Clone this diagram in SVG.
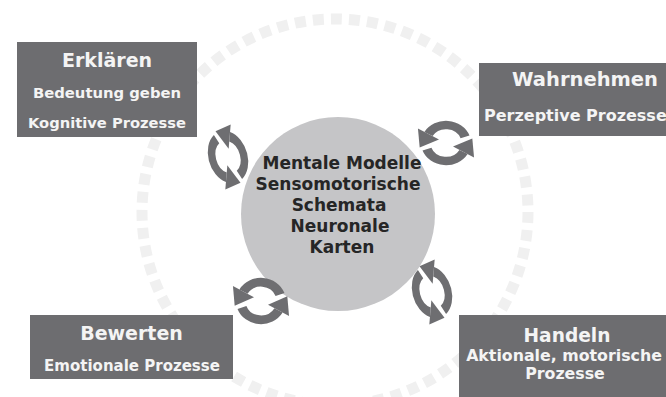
<svg xmlns="http://www.w3.org/2000/svg" xmlns:xlink="http://www.w3.org/1999/xlink" width="666" height="397" viewBox="0 0 666 397">
<style>
.box{fill:#6d6d70}
.bt{font-family:"DejaVu Sans",Verdana,sans-serif;font-weight:bold;fill:#f4f4f4;text-anchor:middle}
.ct{font-family:"DejaVu Sans",Verdana,sans-serif;font-weight:bold;fill:#262626;text-anchor:middle;font-size:17px}
.arc{fill:none;stroke:#6e6e71;stroke-width:7}
.head{fill:#6e6e71}
</style>
<defs>
<g id="half">
<path class="arc" d="M14.1,-5.13 A15,15 0 0 0 -12.99,-7.5"/>
<polygon class="head" points="-20.78,-12 -5.2,-3 -19.49,3.76"/>
</g>
<g id="cyc">
<use xlink:href="#half"/>
<use xlink:href="#half" transform="rotate(180)"/>
</g>
</defs>
<rect width="666" height="397" fill="#ffffff"/>
<circle cx="335" cy="212" r="193" fill="none" stroke="#f0f0f0" stroke-width="11" stroke-dasharray="11 7.1"/>
<g id="center">
<circle cx="338" cy="214" r="97" fill="#c5c5c7"/>
<text class="ct" x="342" y="169">Mentale Modelle</text>
<text class="ct" x="338" y="190">Sensomotorische</text>
<text class="ct" x="339" y="211">Schemata</text>
<text class="ct" x="340" y="232">Neuronale</text>
<text class="ct" x="342" y="253">Karten</text>
</g>
<g id="erklaeren">
<rect class="box" x="17" y="42" width="180" height="95"/>
<text class="bt" x="107" y="67" font-size="19">Erklären</text>
<text class="bt" x="107" y="98" font-size="14.8">Bedeutung geben</text>
<text class="bt" x="107" y="128" font-size="14.7">Kognitive Prozesse</text>
</g>
<g id="wahrnehmen">
<rect class="box" x="479" y="63" width="200" height="73"/>
<text class="bt" x="585" y="86" font-size="19.5">Wahrnehmen</text>
<text class="bt" x="484" y="121" font-size="16" style="text-anchor:start">Perzeptive Prozesse</text>
</g>
<g id="bewerten">
<rect class="box" x="30" y="315" width="203" height="64"/>
<text class="bt" x="131.5" y="340" font-size="19">Bewerten</text>
<text class="bt" x="132" y="371" font-size="15">Emotionale Prozesse</text>
</g>
<g id="handeln">
<rect class="box" x="459" y="315" width="220" height="90"/>
<text class="bt" x="567" y="342" font-size="18.6">Handeln</text>
<text class="bt" x="564" y="361" font-size="15.8">Aktionale, motorische</text>
<text class="bt" x="565" y="379" font-size="15.8">Prozesse</text>
</g>
<g id="connectors">
<use xlink:href="#cyc" transform="translate(228,157) rotate(72) scale(1.45,1.05)"/>
<use xlink:href="#cyc" transform="translate(446,143) scale(1.35,1.2)"/>
<use xlink:href="#cyc" transform="translate(261,301) scale(1.35,1.25)"/>
<use xlink:href="#cyc" transform="translate(432,292) rotate(72) scale(1.45,1.05)"/>
</g>
</svg>
